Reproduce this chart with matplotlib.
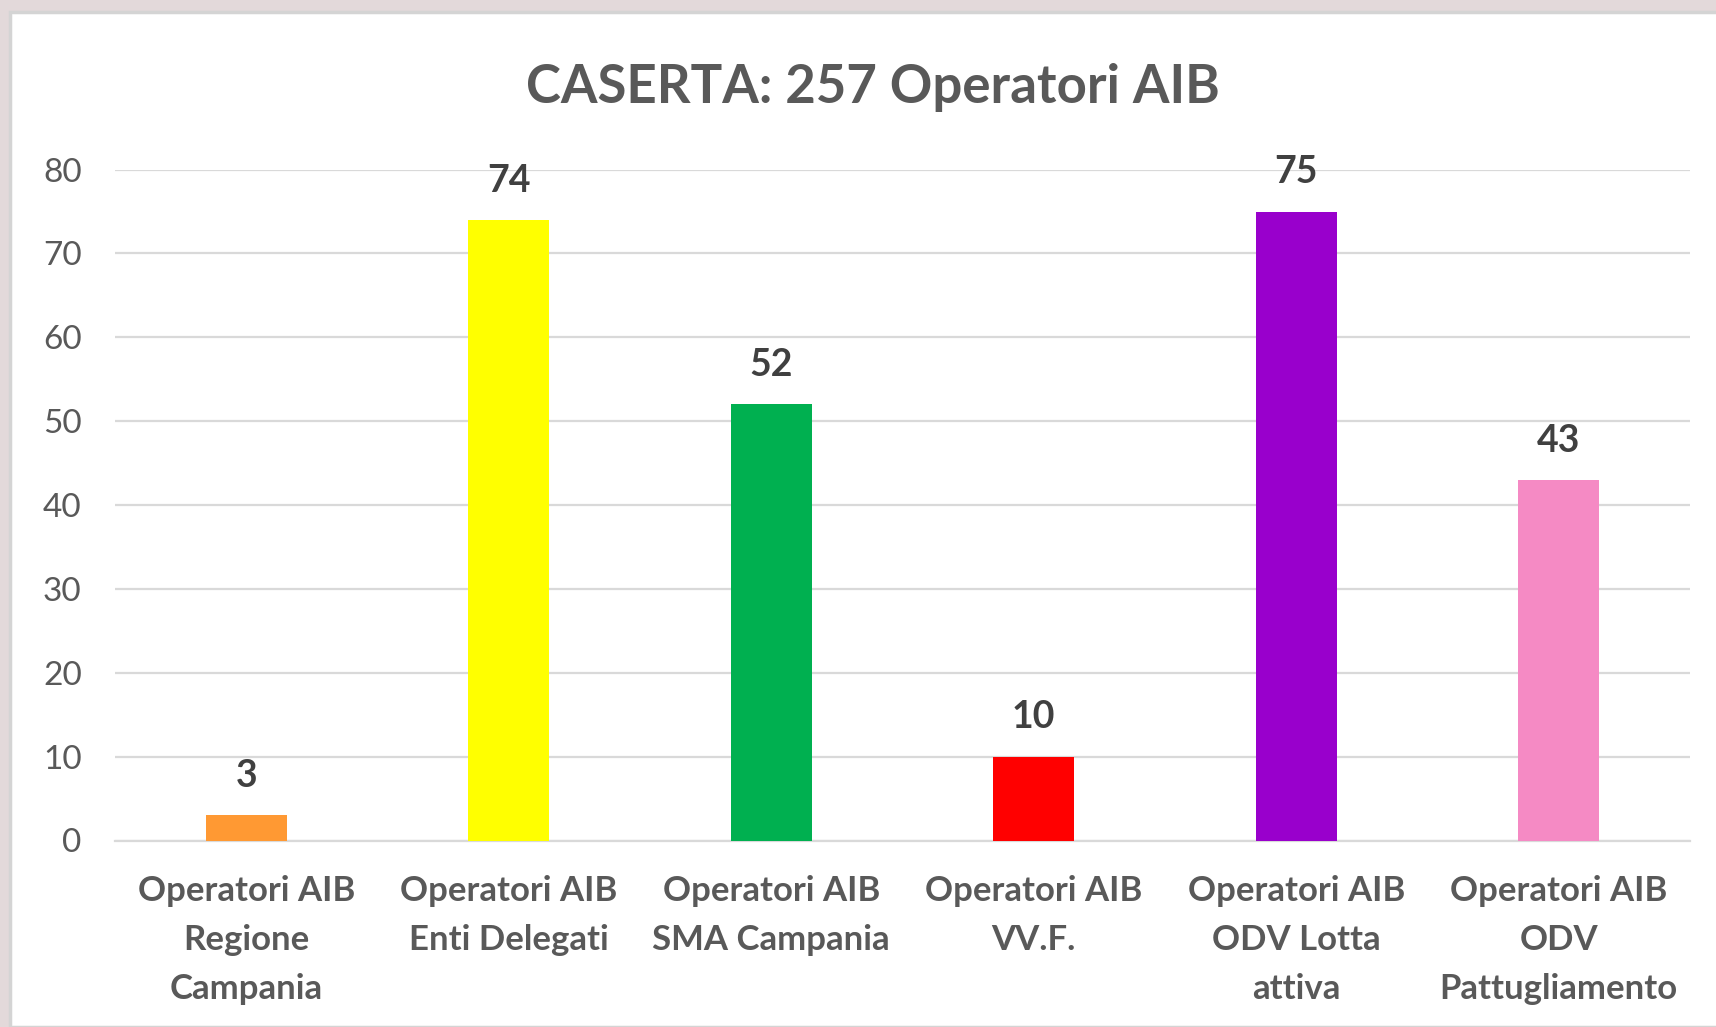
import matplotlib
matplotlib.use('Agg')
import matplotlib.pyplot as plt
from matplotlib.patches import Rectangle

# chart data
categories = [
    "Operatori AIB\nRegione\nCampania",
    "Operatori AIB\nEnti Delegati",
    "Operatori AIB\nSMA Campania",
    "Operatori AIB\nVV.F.",
    "Operatori AIB\nODV Lotta\nattiva",
    "Operatori AIB\nODV\nPattugliamento",
]
values = [3, 74, 52, 10, 75, 43]
bar_colors = ["#FF9933", "#FFFF00", "#00B050", "#FF0000", "#9900CC", "#F58AC4"]
yticks = [0, 10, 20, 30, 40, 50, 60, 70, 80]
title = "CASERTA: 257 Operatori AIB"

plt.rcParams['font.family'] = ['Lato', 'DejaVu Sans']

fig = plt.figure(figsize=(17.16, 10.27), dpi=100)
fig.patch.set_facecolor('#e3d9da')

# white chart panel with light border (screenshot frame)
W, H = 1716, 1027
fig.patches.append(Rectangle((10 / W, 0), 1.2, 1 - 12 / H, transform=fig.transFigure,
                             facecolor='white', edgecolor='#d4d4d4', linewidth=2.5, zorder=-10))

ax = fig.add_axes([115 / W, 1 - 840.5 / H, (1690 - 115) / W, (840.5 - 169.6) / H])
ax.set_facecolor('none')

x = range(len(values))
ax.bar(x, values, width=0.31, color=bar_colors, zorder=3)

for xi, v in zip(x, values):
    ax.annotate(str(v), (xi, v), xytext=(0, 16), textcoords='offset points',
                ha='center', va='bottom', fontsize=27, fontweight='bold', color='#404040')

ax.set_xlim(-0.5, len(values) - 0.5)
ax.set_ylim(0, 80)
ax.set_yticks(yticks)
ax.set_yticklabels([str(t) for t in yticks])
ax.yaxis.grid(True, color='#d9d9d9', linewidth=1.6, zorder=0)
ax.set_axisbelow(True)
for s in ['top', 'right', 'left']:
    ax.spines[s].set_visible(False)
ax.spines['bottom'].set_color('#d9d9d9')
ax.spines['bottom'].set_linewidth(1.6)

ax.set_xticks(list(x))
ax.set_xticklabels(categories, fontsize=25, fontweight='bold', color='#595959',
                   linespacing=1.65)
ax.tick_params(axis='x', length=0, pad=25)
ax.tick_params(axis='y', length=0, pad=24, labelsize=24, labelcolor='#595959')

fig.text(873 / W, 1 - 87 / H, title, ha='center', va='center', fontsize=38,
         fontweight='bold', color='#595959')

fig.savefig('out.png', dpi=100, facecolor=fig.get_facecolor())
